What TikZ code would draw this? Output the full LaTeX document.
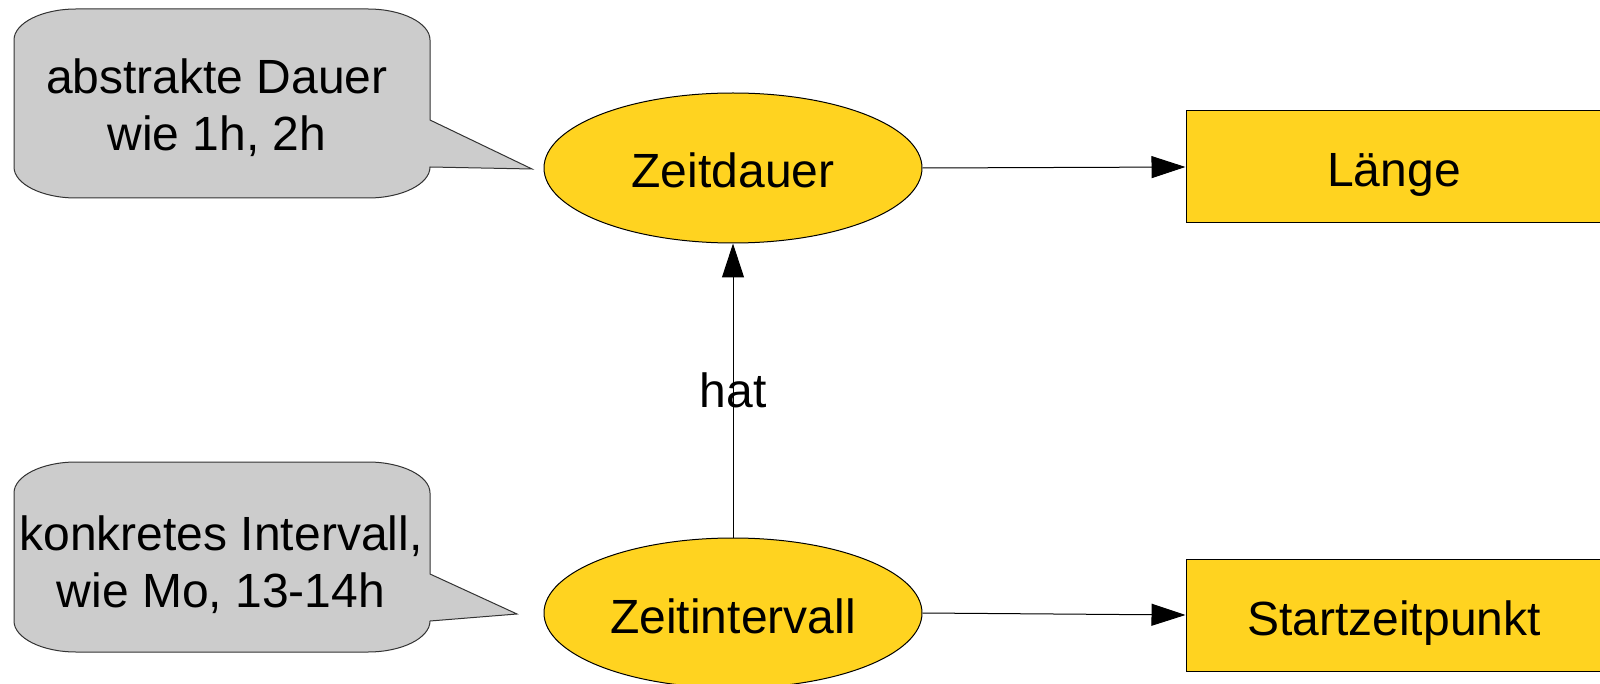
\documentclass[tikz,border=0pt]{standalone}
\usepackage{fontspec}
\setmainfont{Liberation Sans}
\usetikzlibrary{shapes.geometric,arrows.meta}
\definecolor{gelb}{HTML}{FFD320}
\definecolor{blase}{HTML}{CCCCCC}
\begin{document}
\begin{tikzpicture}[x=0.5pt,y=-0.5pt,
  font=\fontsize{24pt}{28.5pt}\selectfont,
  begriff/.style={ellipse,draw,fill=gelb,line width=0.5pt,inner sep=0pt,
    text height=20pt,text depth=0pt,minimum width=189pt,minimum height=75pt},
  merkmal/.style={rectangle,draw,fill=gelb,line width=0.5pt,inner sep=0pt,
    text height=20pt,text depth=0pt,minimum width=208pt,minimum height=56pt},
  pfeil/.style={-{Triangle[length=17pt,width=11pt]},line width=0.5pt},
  bubble/.style={fill=blase,draw=black!80,line width=0.5pt},
  bubbletext/.style={align=center,inner sep=0pt}]
\useasboundingbox (0,0) rectangle (1600,684);
\path (733,168) node[begriff] (zd) {Zeitdauer}
      (733,613) node[begriff] (zi) {Zeitintervall}
      (1394,167) node[merkmal] (lae) {Länge}
      (1394,615) node[merkmal] (szp) {Startzeitpunkt};
% Sprechblasen
\filldraw[bubble] (14,40) .. controls (14,23) and (42,9) .. (76,9) -- (368,9)
  .. controls (402,9) and (430,23) .. (430,40) -- (430,120) -- (532,169)
  -- (430,167) .. controls (430,184) and (402,198) .. (368,198) -- (76,198)
  .. controls (42,198) and (14,184) .. (14,167) -- cycle;
\filldraw[bubble] (14,493) .. controls (14,476) and (42,462) .. (76,462) -- (368,462)
  .. controls (402,462) and (430,476) .. (430,493) -- (430,574) -- (517,614)
  -- (430,621) .. controls (430,638) and (402,652) .. (368,652) -- (76,652)
  .. controls (42,652) and (14,638) .. (14,621) -- cycle;
\path (217,108) node[bubbletext] (bd) {abstrakte Dauer\\wie 1h, 2h}
      (221,565) node[bubbletext] (bi) {konkretes Intervall,\\wie Mo, 13-14h};
\draw[pfeil] (zd.east) -- (lae.west);
\draw[pfeil] (zi.east) -- (szp.west);
\draw[pfeil] (zi.north) -- node[inner sep=0pt] {hat} (zd.south);
\end{tikzpicture}
\end{document}
